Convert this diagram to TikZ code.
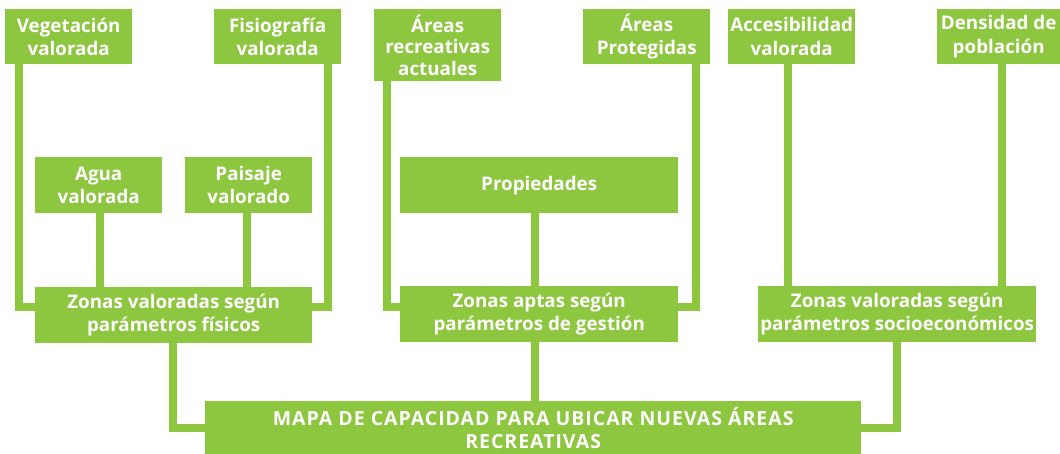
\documentclass[tikz,border=0pt]{standalone}
\usepackage{fontspec}
\setmainfont{Open Sans}
\definecolor{vgreen}{RGB}{141,198,63}
\begin{document}
\begin{tikzpicture}[x=1pt,y=-1pt,
  box/.style={fill=vgreen, text=white, font=\fontsize{18.8}{23.5}\selectfont\bfseries,
    align=center, inner sep=0pt, anchor=north west},
  bigbox/.style={box, font=\fontsize{19.5}{23}\selectfont\bfseries\addfontfeatures{LetterSpace=5}},
  conn/.style={draw=vgreen, line width=8pt}]
\useasboundingbox (0,0) rectangle (1060,454);
% top row
\node[box, minimum width=127pt, minimum height=55pt] (veg) at (5,9) {Vegetación\\valorada};
\node[box, minimum width=127pt, minimum height=55pt] (fis) at (214,9) {Fisiografía\\valorada};
\node[box, minimum width=127pt, minimum height=72pt, font=\fontsize{18.8}{21.5}\selectfont\bfseries] (rec) at (374,9) {Áreas\\recreativas\\actuales};
\node[box, minimum width=127pt, minimum height=55pt] (pro) at (583,9) {Áreas\\Protegidas};
\node[box, minimum width=127pt, minimum height=55pt] (acc) at (728,9) {Accesibilidad\\valorada};
\node[box, minimum width=123pt, minimum height=55pt] (den) at (937,9) {Densidad de\\población};
% middle row
\node[box, minimum width=127pt, minimum height=56pt] (agu) at (35,157) {Agua\\valorada};
\node[box, minimum width=127pt, minimum height=56pt] (pai) at (185,157) {Paisaje\\valorado};
\node[box, minimum width=278pt, minimum height=56pt] (prp) at (400,157) {Propiedades};
% zone row
\node[box, minimum width=277pt, minimum height=56pt] (zfis) at (35,287) {Zonas valoradas según\\parámetros físicos};
\node[box, minimum width=278pt, minimum height=56pt] (zges) at (400,286) {Zonas aptas según\\parámetros de gestión};
\node[box, minimum width=278pt, minimum height=56pt] (zsoc) at (758,286) {Zonas valoradas según\\parámetros socioeconómicos};
% final
\node[bigbox, minimum width=656pt, minimum height=53pt] (mapa) at (205,401) {MAPA DE CAPACIDAD PARA UBICAR NUEVAS ÁREAS\\RECREATIVAS};
% x positions of connectors
\coordinate (xveg) at (19,0);
\coordinate (xfis) at (328,0);
\coordinate (xagu) at (100,0);
\coordinate (xpai) at (247,0);
\coordinate (xrec) at (387,0);
\coordinate (xpro) at (695.5,0);
\coordinate (xprp) at (534.5,0);
\coordinate (xacc) at (788,0);
\coordinate (xden) at (1001.5,0);
\coordinate (xzf) at (173,0);
\coordinate (xzs) at (897,0);
\coordinate (yj) at (0,307);
% connectors
\draw[conn] (veg.south -| xveg) |- (zfis.west |- yj);
\draw[conn] (fis.south -| xfis) |- (zfis.east |- yj);
\draw[conn] (agu.south -| xagu) -- (zfis.north -| xagu);
\draw[conn] (pai.south -| xpai) -- (zfis.north -| xpai);
\draw[conn] (rec.south -| xrec) |- (zges.west |- yj);
\draw[conn] (pro.south -| xpro) |- (zges.east |- yj);
\draw[conn] (prp.south -| xprp) -- (zges.north -| xprp);
\draw[conn] (acc.south -| xacc) -- (zsoc.north -| xacc);
\draw[conn] (den.south -| xden) -- (zsoc.north -| xden);
\draw[conn] (zfis.south -| xzf) |- (mapa.west);
\draw[conn] (zges.south -| xprp) -- (mapa.north -| xprp);
\draw[conn] (zsoc.south -| xzs) |- (mapa.east);
\end{tikzpicture}
\end{document}
